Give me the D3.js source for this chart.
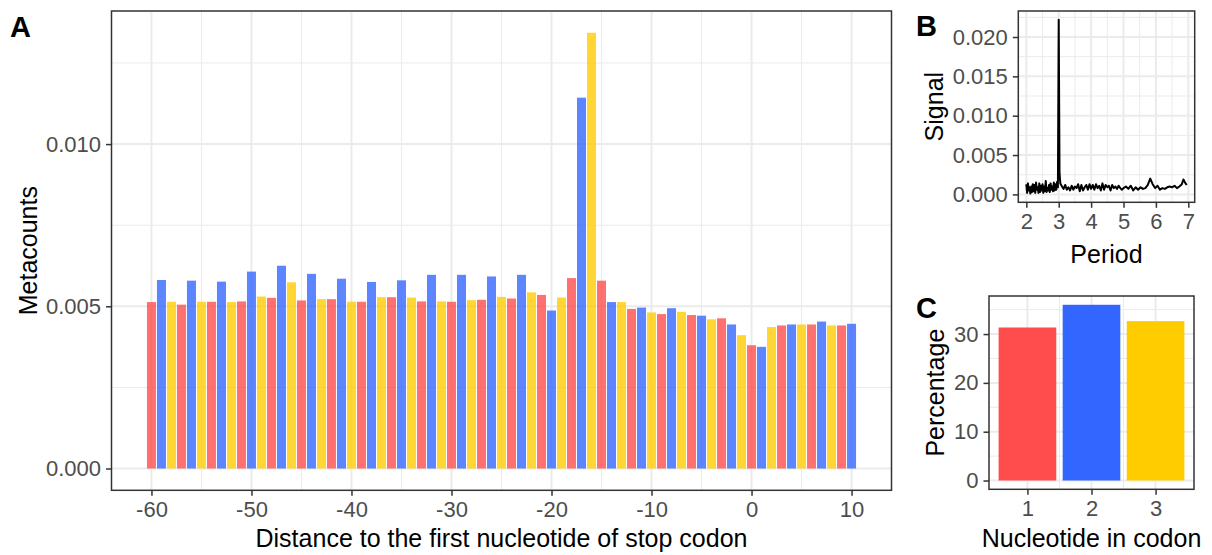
<!DOCTYPE html>
<html>
<head>
<meta charset="utf-8">
<script src="https://cdn.jsdelivr.net/npm/d3@7"></script>
<style>
  body { margin: 0; background: #fff; }
  text { font-family: "Liberation Sans", Arial, Helvetica, sans-serif; }
</style>
</head>
<body>
<svg id="canvas" width="1212" height="555"></svg>
<script>
// ************************************************************************************************** //
// Data

// A: metagene profile around the stop codon
var positions = [-60,-59,-58,-57,-56,-55,-54,-53,-52,-51,-50,-49,-48,-47,-46,-45,-44,-43,-42,-41,
  -40,-39,-38,-37,-36,-35,-34,-33,-32,-31,-30,-29,-28,-27,-26,-25,-24,-23,-22,-21,
  -20,-19,-18,-17,-16,-15,-14,-13,-12,-11,-10,-9,-8,-7,-6,-5,-4,-3,-2,-1,
  0,1,2,3,4,5,6,7,8,9,10];
var metacounts = [0.00513,0.00581,0.00514,0.00505,0.00579,0.00514,0.00514,0.00576,0.00513,0.00515,
  0.00607,0.00530,0.00526,0.00625,0.00574,0.00518,0.00600,0.00522,0.00522,0.00585,
  0.00514,0.00514,0.00575,0.00528,0.00528,0.00580,0.00527,0.00515,0.00597,0.00515,
  0.00514,0.00597,0.00519,0.00520,0.00592,0.00529,0.00524,0.00597,0.00543,0.00535,
  0.00487,0.00527,0.00587,0.01143,0.01343,0.00579,0.00513,0.00513,0.00492,0.00496,
  0.00481,0.00476,0.00494,0.00483,0.00473,0.00471,0.00460,0.00463,0.00444,0.00411,
  0.00380,0.00375,0.00436,0.00441,0.00444,0.00444,0.00444,0.00453,0.00441,0.00441,0.00446];
var xTicksA = [-60,-50,-40,-30,-20,-10,0,10];
var xMinorA = [-55,-45,-35,-25,-15,-5,5];
var yTicksA = [0, 0.005, 0.010];
var yMinorA = [0.0025, 0.0075, 0.0125];

// B: periodogram
var periods = [2.000,2.025,2.050,2.075,2.100,2.125,2.150,2.175,2.200,2.225,2.250,2.275,2.300,2.325,2.350,2.375,
  2.400,2.425,2.450,2.475,2.500,2.525,2.550,2.575,2.600,2.625,2.650,2.675,2.700,2.725,2.750,2.775,
  2.800,2.825,2.850,2.875,2.900,2.925,2.950,2.975,3.000,3.025,3.05,3.10,3.15,3.20,3.25,3.30,3.35,
  3.40,3.45,3.50,3.55,3.60,3.65,3.70,3.75,3.80,3.85,3.90,3.95,4.00,4.05,4.10,4.15,4.20,4.25,4.30,
  4.35,4.40,4.45,4.50,4.55,4.60,4.65,4.70,4.75,4.80,4.85,4.90,4.95,5.00,5.075,5.15,5.225,5.30,
  5.375,5.45,5.525,5.60,5.675,5.75,5.825,5.90,5.975,6.05,6.125,6.20,6.275,6.35,6.425,6.50,
  6.575,6.65,6.725,6.80,6.85,6.90,6.95];
var signal = [0.0013,0.0002,0.0014,0.0005,0.0009,0.0001,0.0010,0.0003,0.0013,0.0004,0.0012,0.0002,0.0015,0.0006,0.0009,0.0002,
  0.0014,0.0003,0.0011,0.0005,0.0013,0.0002,0.0010,0.0004,0.0017,0.0003,0.0008,0.0005,0.0012,0.0003,0.0014,0.0006,
  0.0010,0.0004,0.0015,0.0005,0.0013,0.0006,0.0016,0.0009,0.0222,0.0027,0.0014,0.0010,0.0007,0.0012,0.0006,0.0009,0.0005,
  0.0011,0.0006,0.0010,0.0008,0.0013,0.0004,0.0012,0.0005,0.0009,0.0012,0.0006,0.0013,0.0007,0.0012,0.0006,0.0013,0.0008,0.0011,0.0005,
  0.0014,0.0006,0.0012,0.0009,0.0011,0.0005,0.0012,0.0008,0.0010,0.0007,0.0011,0.0008,0.0006,0.0008,0.0010,0.0007,0.0011,0.0005,
  0.0009,0.0006,0.0009,0.0007,0.0008,0.0012,0.0020,0.0013,0.0008,0.0011,0.0006,0.0008,0.0007,0.0009,0.0010,0.0009,
  0.0011,0.0008,0.0010,0.0013,0.0019,0.0015,0.0012];
var xTicksB = [2,3,4,5,6,7];
var xMinorB = [2.5,3.5,4.5,5.5,6.5];
var yTicksB = [0, 0.005, 0.010, 0.015, 0.020];
var yMinorB = [0.0025, 0.0075, 0.0125, 0.0175, 0.0225];

// C: reads per nucleotide of the codon
var codonNt = [1, 2, 3];
var codonPct = [31.35, 36.0, 32.65];
var yTicksC = [0, 10, 20, 30];
var yMinorC = [5, 15, 25, 35];
var xMinorC = [1.5, 2.5];

var frameColors = ['#FF4D4D', '#3366FF', '#FFCC00'];

// ************************************************************************************************** //
// Helpers

var svg = d3.select('#canvas');
svg.append('rect').attr('width', 1212).attr('height', 555).attr('fill', '#fff');

function expand(lo, hi){ var d = 0.05*(hi-lo); return [lo-d, hi+d]; }

function drawGrid(box, x, y, xMajor, xMinor, yMajor, yMinor){
  var g = svg.append('g');
  g.append('rect').attr('x', box.left).attr('y', box.top).attr('width', box.right-box.left).attr('height', box.bottom-box.top).attr('fill', '#fff');
  g.selectAll('.vmin').data(xMinor).enter().append('line')
    .attr('x1', d => x(d)).attr('x2', d => x(d)).attr('y1', box.top).attr('y2', box.bottom)
    .attr('stroke', '#EBEBEB').attr('stroke-width', 1);
  g.selectAll('.hmin').data(yMinor).enter().append('line')
    .attr('x1', box.left).attr('x2', box.right).attr('y1', d => y(d)).attr('y2', d => y(d))
    .attr('stroke', '#EBEBEB').attr('stroke-width', 1);
  g.selectAll('.vmaj').data(xMajor).enter().append('line')
    .attr('x1', d => x(d)).attr('x2', d => x(d)).attr('y1', box.top).attr('y2', box.bottom)
    .attr('stroke', '#EBEBEB').attr('stroke-width', 2);
  g.selectAll('.hmaj').data(yMajor).enter().append('line')
    .attr('x1', box.left).attr('x2', box.right).attr('y1', d => y(d)).attr('y2', d => y(d))
    .attr('stroke', '#EBEBEB').attr('stroke-width', 2);
}

function styleAxis(a){
  a.attr('font-size', 22).attr('font-family', '"Liberation Sans", Arial, sans-serif');
  a.select('.domain').remove();
  a.selectAll('.tick line').attr('stroke', '#333333').attr('stroke-width', 1.5);
  a.selectAll('.tick text').attr('fill', '#4D4D4D');
}

function drawFrame(box, x, y, xTicks, yTicks, xFmt, yFmt){
  svg.append('rect').attr('x', box.left).attr('y', box.top).attr('width', box.right-box.left).attr('height', box.bottom-box.top)
    .attr('fill', 'none').attr('stroke', '#333333').attr('stroke-width', 1.5);
  var ax = svg.append('g').attr('transform', 'translate(0,' + box.bottom + ')')
    .call(d3.axisBottom(x).tickValues(xTicks).tickFormat(xFmt).tickSize(5.5).tickPadding(6));
  styleAxis(ax);
  var ay = svg.append('g').attr('transform', 'translate(' + box.left + ',0)')
    .call(d3.axisLeft(y).tickValues(yTicks).tickFormat(yFmt).tickSize(5.5).tickPadding(5));
  styleAxis(ay);
}

function title(txt, x, y, rot){
  var t = svg.append('text').attr('font-size', 25).attr('fill', '#000').text(txt);
  if(rot){
    t.attr('text-anchor', 'middle').attr('transform', 'translate(' + x + ',' + y + ') rotate(-90)');
  } else {
    t.attr('x', x).attr('y', y).attr('text-anchor', 'middle');
  }
}

function tag(txt, x, y){
  svg.append('text').attr('x', x).attr('y', y).attr('font-size', 29).attr('font-weight', 'bold').text(txt);
}

// ************************************************************************************************** //
// Panel A

var boxA = { left: 111.5, right: 891.5, top: 11, bottom: 490.3 };
var xA = d3.scaleLinear().domain(expand(positions[0]-0.45, positions[positions.length-1]+0.45)).range([boxA.left, boxA.right]);
var yA = d3.scaleLinear().domain(expand(0, d3.max(metacounts))).range([boxA.bottom, boxA.top]);

drawGrid(boxA, xA, yA, xTicksA, xMinorA, yTicksA, yMinorA);

svg.append('g').selectAll('rect').data(positions).enter().append('rect')
  .attr('x', d => xA(d-0.45))
  .attr('width', d => xA(d+0.45)-xA(d-0.45))
  .attr('y', (d,i) => yA(metacounts[i]))
  .attr('height', (d,i) => yA(0)-yA(metacounts[i]))
  .attr('fill', d => frameColors[((d%3)+3)%3])
  .attr('fill-opacity', 0.8);

drawFrame(boxA, xA, yA, xTicksA, yTicksA, d => String(d), d3.format('.3f'));
title('Distance to the first nucleotide of stop codon', (boxA.left+boxA.right)/2, 547);
title('Metacounts', 37, (boxA.top+boxA.bottom)/2, true);
tag('A', 10, 37);

// ************************************************************************************************** //
// Panel B

var boxB = { left: 1018.3, right: 1194.7, top: 11, bottom: 202.3 };
var xB = d3.scaleLinear().domain(expand(d3.min(periods), d3.max(periods))).range([boxB.left, boxB.right]);
var yB = d3.scaleLinear().domain(expand(d3.min(signal), d3.max(signal))).range([boxB.bottom, boxB.top]);

drawGrid(boxB, xB, yB, xTicksB, xMinorB, yTicksB, yMinorB);

var lineB = d3.line().x(d => xB(d[0])).y(d => yB(d[1]));
svg.append('path').datum(periods.map((p,i) => [p, signal[i]]))
  .attr('d', lineB).attr('fill', 'none').attr('stroke', '#000').attr('stroke-width', 2).attr('stroke-linejoin', 'round');

drawFrame(boxB, xB, yB, xTicksB, yTicksB, d => String(d), d3.format('.3f'));
title('Period', (boxB.left+boxB.right)/2, 263);
title('Signal', 943, (boxB.top+boxB.bottom)/2, true);
tag('B', 916, 36);

// ************************************************************************************************** //
// Panel C

var boxC = { left: 989, right: 1194, top: 296, bottom: 489.3 };
var xC = d3.scaleLinear().domain([0.4, 3.6]).range([boxC.left, boxC.right]);
var yC = d3.scaleLinear().domain(expand(0, d3.max(codonPct))).range([boxC.bottom, boxC.top]);

drawGrid(boxC, xC, yC, codonNt, xMinorC, yTicksC, yMinorC);

svg.append('g').selectAll('rect').data(codonNt).enter().append('rect')
  .attr('x', d => xC(d-0.45))
  .attr('width', d => xC(d+0.45)-xC(d-0.45))
  .attr('y', (d,i) => yC(codonPct[i]))
  .attr('height', (d,i) => yC(0)-yC(codonPct[i]))
  .attr('fill', (d,i) => frameColors[i]);

drawFrame(boxC, xC, yC, codonNt, yTicksC, d => String(d), d => String(d));
title('Nucleotide in codon', (boxC.left+boxC.right)/2, 547);
title('Percentage', 944, (boxC.top+boxC.bottom)/2, true);
tag('C', 916, 318);
</script>
</body>
</html>
